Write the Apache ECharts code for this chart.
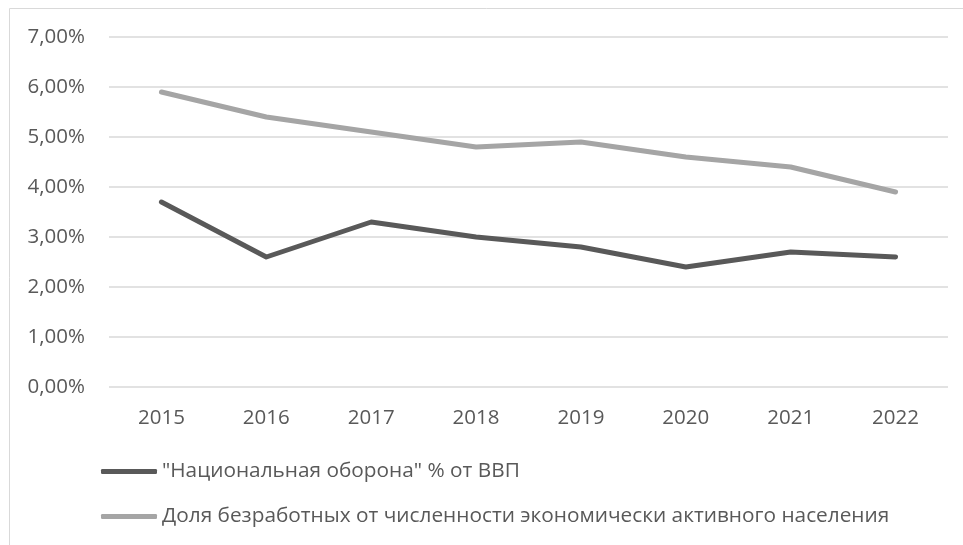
<!DOCTYPE html>
<html>
<head>
<meta charset="utf-8">
<script src="https://cdn.jsdelivr.net/npm/echarts@6/dist/echarts.min.js"></script>
<style>
  html, body { margin: 0; padding: 0; background: #fff; }
  #chart { width: 963px; height: 545px; }
</style>
</head>
<body>
<div id="chart"></div>
<script>
const years = ['2015', '2016', '2017', '2018', '2019', '2020', '2021', '2022']
const defenseName = '"Национальная оборона" % от ВВП'
const defense = [3.7, 2.6, 3.3, 3.0, 2.8, 2.4, 2.7, 2.6]
const unemployedName = 'Доля безработных от численности экономически активного населения'
const unemployed = [5.9, 5.4, 5.1, 4.8, 4.9, 4.6, 4.4, 3.9]

const font = '"Open Sans", "Noto Sans", sans-serif'
const chart = echarts.init(document.getElementById('chart'))

chart.setOption({
  animation: false,
  textStyle: { fontFamily: font },
  graphic: [{
    type: 'rect',
    shape: { x: 9.5, y: 8.5, width: 1000, height: 600 },
    style: { fill: 'none', stroke: '#d9d9d9', lineWidth: 1 },
    silent: true
  }],
  grid: { left: 109, right: 15, top: 37, bottom: 158 },
  legend: {
    orient: 'vertical',
    left: 101,
    top: 461,
    padding: 0,
    itemWidth: 56,
    itemHeight: 5,
    itemGap: 24,
    icon: 'roundRect',
    textStyle: { color: '#595959', fontSize: 20.8, fontFamily: font },
    data: [defenseName, unemployedName]
  },
  xAxis: {
    type: 'category',
    data: years,
    axisLine: { show: false },
    axisTick: { show: false },
    axisLabel: { color: '#595959', fontSize: 20.5, margin: 21 }
  },
  yAxis: {
    type: 'value',
    min: 0,
    max: 7,
    interval: 1,
    axisLine: { show: false },
    axisTick: { show: false },
    splitLine: { lineStyle: { color: '#d9d9d9', width: 1.5 } },
    axisLabel: {
      color: '#595959',
      fontSize: 20.5,
      margin: 24,
      formatter: v => v.toFixed(2).replace('.', ',') + '%'
    }
  },
  series: [
    {
      name: defenseName,
      type: 'line',
      data: defense,
      symbol: 'none',
      color: '#595959',
      lineStyle: { width: 5, cap: 'round', join: 'round' }
    },
    {
      name: unemployedName,
      type: 'line',
      data: unemployed,
      symbol: 'none',
      color: '#a5a5a5',
      lineStyle: { width: 5, cap: 'round', join: 'round' }
    }
  ]
})
</script>
</body>
</html>
